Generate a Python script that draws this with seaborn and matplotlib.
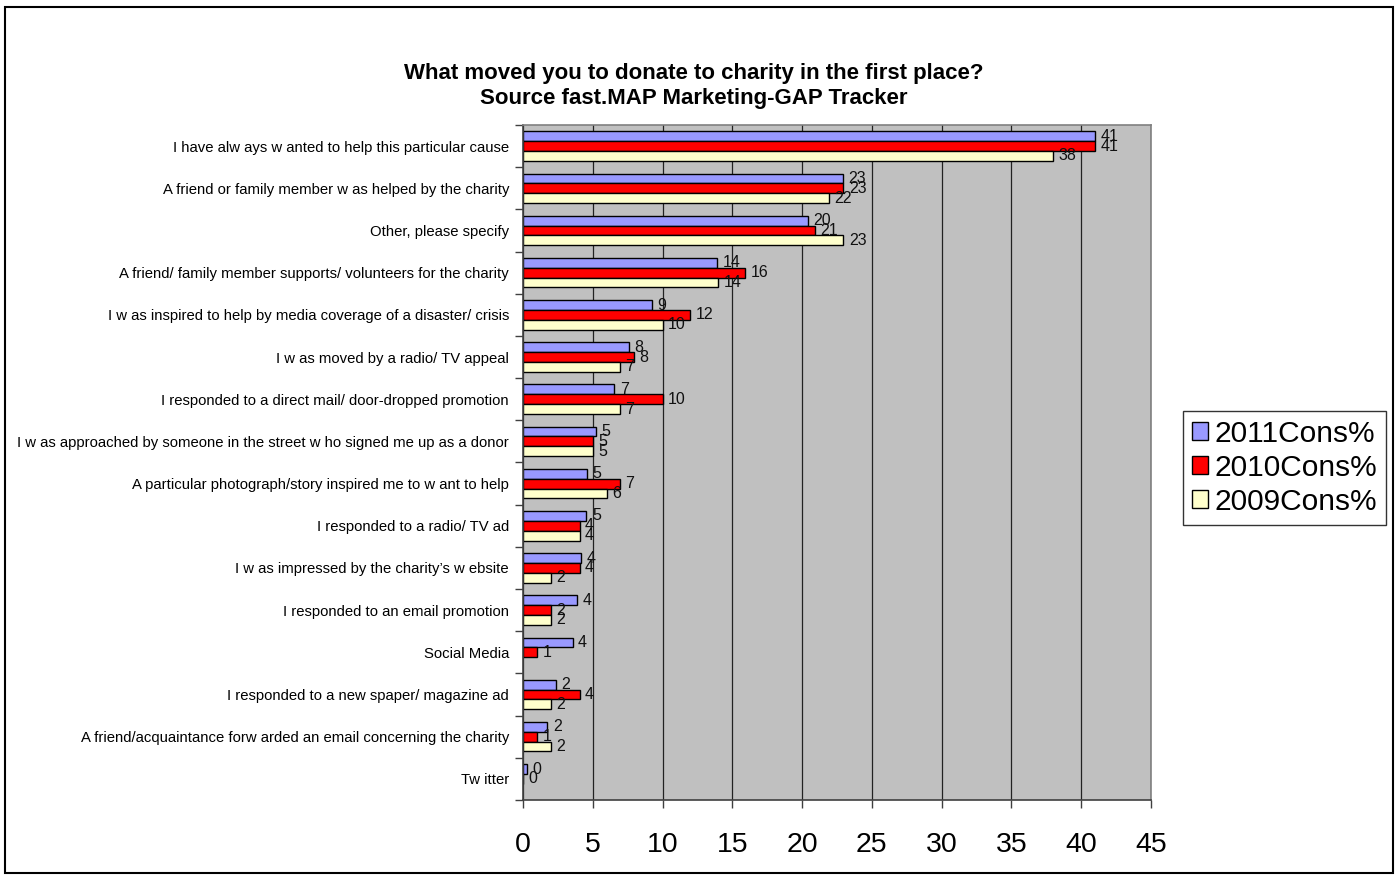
import numpy as np
import pandas as pd
import matplotlib
matplotlib.use("Agg")
import matplotlib.pyplot as plt
from matplotlib.patches import Patch, Rectangle
import seaborn as sns

# Survey answers, top to bottom
causes = [
    "I have alw ays w anted to help this particular cause",
    "A friend or family member w as helped by the charity",
    "Other, please specify",
    "A friend/ family member supports/ volunteers for the charity",
    "I w as inspired to help by media coverage of a disaster/ crisis",
    "I w as moved by a radio/ TV appeal",
    "I responded to a direct mail/ door-dropped promotion",
    "I w as approached by someone in the street w ho signed me up as a donor",
    "A particular photograph/story inspired me to w ant to help",
    "I responded to a radio/ TV ad",
    "I w as impressed by the charity\u2019s w ebsite",
    "I responded to an email promotion",
    "Social Media",
    "I responded to a new spaper/ magazine ad",
    "A friend/acquaintance forw arded an email concerning the charity",
    "Tw itter",
]

series_names = ["2011Cons%", "2010Cons%", "2009Cons%"]

cons_2011 = [41.0, 22.9, 20.4, 13.9, 9.25, 7.6, 6.55, 5.2, 4.6, 4.55, 4.15, 3.85, 3.55, 2.35, 1.75, 0.3]
cons_2010 = [41.0, 22.95, 20.9, 15.9, 12.0, 7.95, 10.0, 5.0, 6.95, 4.05, 4.05, 2.0, 1.0, 4.05, 1.0, 0.0]
cons_2009 = [38.0, 21.9, 22.95, 14.0, 10.0, 6.95, 6.95, 5.0, 6.0, 4.05, 2.0, 2.0, np.nan, 2.0, 2.0, np.nan]

x_ticks = [0, 5, 10, 15, 20, 25, 30, 35, 40, 45]

colors = {"2011Cons%": "#9999FF", "2010Cons%": "#FF0000", "2009Cons%": "#FFFFCC"}

df = pd.DataFrame({
    "cause": causes * 3,
    "series": [s for s in series_names for _ in causes],
    "value": cons_2011 + cons_2010 + cons_2009,
}).dropna()

plt.rcParams["font.family"] = ["Liberation Sans", "DejaVu Sans"]

fig = plt.figure(figsize=(14, 8.8), dpi=100)
ax = fig.add_axes([523 / 1400, 1 - 800 / 880, (1151 - 523) / 1400, (800 - 125) / 880])
ax.set_facecolor("#C0C0C0")

sns.barplot(
    data=df, y="cause", x="value", hue="series",
    order=causes, hue_order=series_names, palette=colors,
    orient="h", width=0.7, saturation=1, errorbar=None,
    edgecolor="black", linewidth=1.0, legend=False, ax=ax,
)

# value labels at bar ends
for cont in ax.containers:
    ax.bar_label(cont, fmt="%.0f", padding=4, fontsize=11.5, color="#111111")

ax.set_xlim(0, 45)
ax.set_ylim(len(causes) - 0.5, -0.5)
ax.set_xticks(x_ticks)
ax.set_xticklabels([str(t) for t in x_ticks], fontsize=20.5)
ax.tick_params(axis="x", length=6, width=1, color="#404040", pad=17, direction="out")

# category ticks sit between groups
ax.set_yticks(range(len(causes)))
ax.set_yticklabels(causes, fontsize=10.7)
ax.tick_params(axis="y", which="major", length=0, pad=10)
ax.set_yticks(np.arange(-0.5, len(causes), 1.0), minor=True)
ax.tick_params(axis="y", which="minor", length=6, width=1, color="#404040", direction="out")

ax.set_xlabel("")
ax.set_ylabel("")
ax.xaxis.grid(True, color="#222222", linewidth=0.9)
ax.yaxis.grid(False)
ax.set_axisbelow(True)

for side in ["left", "bottom"]:
    ax.spines[side].set_color("#404040")
    ax.spines[side].set_linewidth(1.2)
for side in ["top", "right"]:
    ax.spines[side].set_color("#808080")
    ax.spines[side].set_linewidth(1.2)

handles = [Patch(facecolor=colors[s], edgecolor="black", linewidth=1.0) for s in series_names]
leg = fig.legend(
    handles, series_names, loc="center left",
    bbox_to_anchor=(1183 / 1400, 1 - 468 / 880),
    fontsize=21.5, frameon=True, fancybox=False,
    handlelength=0.55, handleheight=0.55, handletextpad=0.2,
    labelspacing=0.2, borderpad=0.3, borderaxespad=0,
)
leg.get_frame().set_edgecolor("black")
leg.get_frame().set_linewidth(1.0)

fig.text(
    694 / 1400, 1 - 86 / 880,
    "What moved you to donate to charity in the first place?\nSource fast.MAP Marketing-GAP Tracker",
    ha="center", va="center", fontsize=16, fontweight="bold", linespacing=1.25,
)

fig.patches.append(Rectangle(
    (5 / 1400, 7 / 880), (1393 - 5) / 1400, (873 - 7) / 880,
    transform=fig.transFigure, fill=False, edgecolor="black", linewidth=1.5,
))

fig.savefig("out.png", dpi=100, facecolor="white")
